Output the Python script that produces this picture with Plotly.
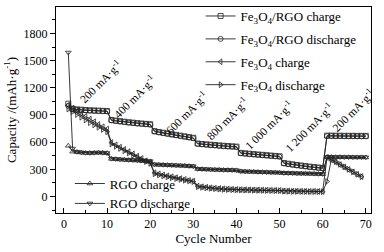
import plotly.graph_objects as go

cycles = list(range(1, 71))

fe3o4_rgo_charge = [1025, 968, 962, 958, 955, 952, 950, 948, 946, 944,
                    845, 838, 832, 826, 820, 815, 810, 806, 802, 798,
                    722, 712, 704, 696, 688, 680, 672, 664, 656, 648,
                    585, 580, 576, 572, 568, 564, 560, 557, 554, 551,
                    482, 477, 472, 468, 464, 460, 456, 452, 448, 444,
                    370, 362, 355, 348, 342, 336, 330, 325, 320, 315,
                    672, 672, 671, 671, 670, 670, 670, 669, 669, 669]

fe3o4_rgo_discharge = [1000, 963, 957, 953, 950, 947, 945, 943, 941, 939,
                       840, 833, 827, 821, 815, 810, 805, 801, 797, 793,
                       717, 707, 699, 691, 683, 675, 667, 659, 651, 643,
                       580, 575, 571, 567, 563, 559, 555, 552, 549, 546,
                       477, 472, 467, 463, 459, 455, 451, 447, 443, 439,
                       365, 357, 350, 343, 337, 331, 325, 320, 315, 310,
                       667, 667, 666, 666, 665, 665, 665, 664, 664, 664]

fe3o4_charge = [1010, 975, 945, 915, 885, 855, 825, 795, 770, 745,
                595, 570, 545, 520, 495, 470, 445, 420, 395, 375,
                262, 250, 238, 228, 218, 208, 198, 188, 178, 170,
                115, 108, 102, 96, 92, 88, 85, 82, 80, 78,
                76, 75, 74, 73, 72, 71, 70, 69, 68, 67,
                62, 61, 60, 59, 58, 58, 57, 57, 56, 56,
                430, 405, 380, 352, 325, 298, 272, 245, 220]

fe3o4_discharge = [965, 935, 905, 875, 845, 815, 790, 765, 740, 715,
                   580, 555, 530, 505, 480, 455, 430, 405, 385, 365,
                   250, 238, 227, 217, 207, 198, 189, 180, 172, 164,
                   108, 101, 95, 90, 86, 82, 79, 77, 75, 73,
                   72, 71, 70, 69, 68, 67, 66, 65, 64, 63,
                   58, 57, 56, 56, 55, 55, 54, 54, 53, 53,
                   166, 410, 385, 355, 328, 300, 272, 245, 218]

rgo_charge = [560, 495, 490, 485, 480, 480, 482, 484, 482, 478,
              415, 412, 408, 405, 402, 400, 397, 394, 390, 387,
              352, 350, 348, 346, 344, 342, 340, 338, 335, 332,
              303, 301, 299, 297, 295, 294, 292, 291, 290, 288,
              277, 275, 273, 272, 270, 268, 267, 265, 264, 262,
              258, 257, 256, 254, 253, 252, 251, 250, 248, 247,
              435, 435, 434, 434, 433, 433, 432, 432, 432, 431]

rgo_discharge = [1590, 530, 494, 488, 483, 482, 484, 486, 484, 480,
                 418, 415, 411, 408, 405, 403, 400, 397, 393, 390,
                 355, 353, 351, 349, 347, 345, 343, 341, 338, 335,
                 306, 304, 302, 300, 298, 297, 295, 294, 293, 291,
                 280, 278, 276, 275, 273, 271, 270, 268, 267, 265,
                 261, 260, 259, 257, 256, 255, 254, 253, 251, 250,
                 438, 438, 437, 437, 436, 436, 435, 435, 435, 434]

rate_labels = ["200 mA·g<sup>-1</sup>", "400 mA·g<sup>-1</sup>", "600 mA·g<sup>-1</sup>",
               "800 mA·g<sup>-1</sup>", "1 000 mA·g<sup>-1</sup>", "1 200 mA·g<sup>-1</sup>",
               "200 mA·g<sup>-1</sup>"]
rate_label_x = [8.6, 16.5, 28.6, 37.9, 47.5, 56.9, 67.0]
rate_label_y = [1265, 1099, 922, 866, 783, 761, 955]

FONT = "Liberation Serif, Times New Roman, serif"
LINE = "#222222"

series = [
    ("Fe<sub>3</sub>O<sub>4</sub>/RGO charge", fe3o4_rgo_charge, "square-open", "legend"),
    ("Fe<sub>3</sub>O<sub>4</sub>/RGO discharge", fe3o4_rgo_discharge, "circle-open", "legend"),
    ("Fe<sub>3</sub>O<sub>4</sub> charge", fe3o4_charge, "triangle-left-open", "legend"),
    ("Fe<sub>3</sub>O<sub>4</sub> discharge", fe3o4_discharge, "triangle-right-open", "legend"),
    ("RGO charge", rgo_charge, "triangle-up-open", "legend2"),
    ("RGO discharge", rgo_discharge, "triangle-down-open", "legend2"),
]

fig = go.Figure()
for i, (name, vals, sym, leg) in enumerate(series):
    fig.add_trace(go.Scatter(
        x=cycles[:len(vals)], y=vals, name=name, mode="lines+markers",
        line=dict(color=LINE, width=0.9),
        marker=dict(symbol=sym, size=5, color=LINE, line=dict(width=0.8, color=LINE)),
        legend=leg, legendgroup=f"g{i}",
    ))

for t, x, y in zip(rate_labels, rate_label_x, rate_label_y):
    fig.add_annotation(x=x, y=y, text=t, showarrow=False, textangle=-45,
                       font=dict(family=FONT, size=11.5, color="black"))

fig.update_layout(
    width=384, height=252,
    margin=dict(l=56, r=13, t=7, b=39, autoexpand=False),
    paper_bgcolor="white", plot_bgcolor="white",
    font=dict(family=FONT, size=12, color="black"),
    showlegend=True,
    legend=dict(x=0.459, y=1.029, xanchor="left", yanchor="top",
                bgcolor="rgba(0,0,0,0)", font=dict(family=FONT, size=13),
                tracegroupgap=3, itemwidth=30),
    legend2=dict(x=0.044, y=-0.027, xanchor="left", yanchor="bottom",
                 bgcolor="rgba(0,0,0,0)", font=dict(family=FONT, size=13),
                 tracegroupgap=0, itemwidth=30),
    xaxis=dict(range=[-1.85, 71.2], dtick=10, tick0=0, ticks="inside", ticklen=5,
               tickcolor="black", showline=True, linecolor="black", linewidth=1,
               mirror=True, showgrid=False, zeroline=False, automargin=False,
               minor=dict(dtick=5, ticks="inside", ticklen=3, tickcolor="black"),
               title=dict(text="Cycle Number", font=dict(family=FONT, size=13), standoff=1),
               tickfont=dict(family=FONT, size=12)),
    yaxis=dict(range=[-182, 2092], dtick=300, tick0=0, ticks="outside", ticklen=5,
               tickcolor="black", showline=True, linecolor="black", linewidth=1,
               mirror=True, showgrid=False, zeroline=False, automargin=False,
               minor=dict(dtick=150, ticks="outside", ticklen=3, tickcolor="black"),
               title=dict(text="Capacity /(mAh·g<sup>-1</sup>)", font=dict(family=FONT, size=13), standoff=4),
               tickfont=dict(family=FONT, size=12)),
)

fig.write_html("out.html", config={"displayModeBar": False},
               post_script="document.body.style.margin='0px';document.body.style.padding='0px';")
